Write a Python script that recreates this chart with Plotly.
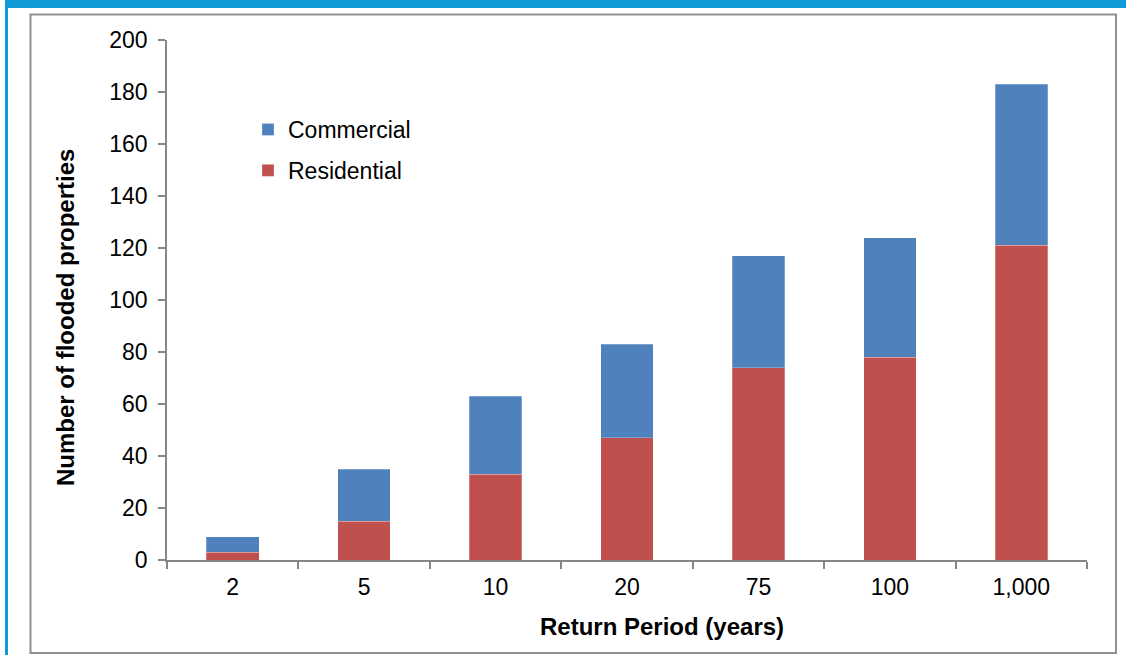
import plotly.graph_objects as go

# Return periods and flooded property counts per category
return_periods = ["2", "5", "10", "20", "75", "100", "1,000"]
residential = [3, 15, 33, 47, 74, 78, 121]
commercial = [6, 20, 30, 36, 43, 46, 62]

W, H = 1126, 655
L, R, T, B = 167, 1087, 40, 560  # plot area in pixels

def px(x):
    return (x - L) / (R - L)

def py(y):
    return (B - y) / (B - T)

FONT = "Liberation Sans, Arial, sans-serif"
AXIS_GREY = "#868686"
FS = 23

fig = go.Figure()
fig.add_trace(go.Bar(
    x=return_periods, y=residential, name="Residential",
    marker=dict(color="#c0504d", line=dict(color="rgba(255,255,255,0.5)", width=0.5)),
    legendgroup="res", legendrank=2,
))
fig.add_trace(go.Bar(
    x=return_periods, y=commercial, name="Commercial",
    marker=dict(color="#4f81bd", line=dict(color="rgba(255,255,255,0.5)", width=0.5)),
    legendgroup="com", legendrank=1,
))

shapes = [
    # blue header band and left strip
    dict(type="rect", xref="paper", yref="paper",
         x0=px(6), x1=px(W + 5), y0=py(0), y1=py(8),
         fillcolor="#0f9ad8", line=dict(width=0), layer="below"),
    dict(type="rect", xref="paper", yref="paper",
         x0=px(5), x1=px(8), y0=py(0), y1=py(H + 5),
         fillcolor="#0f9ad8", line=dict(width=0), layer="below"),
    # chart frame
    dict(type="rect", xref="paper", yref="paper",
         x0=px(30.5), x1=px(1116), y0=py(14.5), y1=py(653),
         fillcolor="rgba(0,0,0,0)", line=dict(color="#909090", width=2), layer="below"),
]

annotations = [
    dict(text="<b>Return Period (years)</b>", xref="paper", yref="paper",
         x=px(662), y=py(626), showarrow=False, xanchor="center", yanchor="middle",
         font=dict(family=FONT, size=24, color="#000000")),
    dict(text="<b>Number of flooded properties</b>", xref="paper", yref="paper",
         x=px(65), y=py(318), showarrow=False, xanchor="center", yanchor="middle",
         textangle=-90, font=dict(family=FONT, size=24, color="#000000")),
]

fig.update_layout(
    width=W, height=H,
    margin=dict(l=L, r=W - R, t=T, b=H - B, pad=0),
    paper_bgcolor="white", plot_bgcolor="white",
    barmode="stack", bargap=0.6,
    font=dict(family=FONT, size=FS, color="#000000"),
    showlegend=True,
    legend=dict(
        x=px(248), y=py(108), xanchor="left", yanchor="top",
        traceorder="grouped", tracegroupgap=8,
        font=dict(family=FONT, size=FS, color="#000000"),
        bgcolor="rgba(0,0,0,0)", itemwidth=30,
    ),
    xaxis=dict(
        type="category", tickson="boundaries", ticks="outside", ticklen=7,
        tickcolor=AXIS_GREY, tickwidth=1.5, showline=True, linecolor=AXIS_GREY,
        linewidth=1.5, showgrid=False, zeroline=False, ticklabelstandoff=6,
        tickfont=dict(family=FONT, size=FS, color="#000000"),
    ),
    yaxis=dict(
        range=[0, 200], dtick=20, ticks="outside", ticklen=7,
        tickcolor=AXIS_GREY, tickwidth=1.5, showline=True, linecolor=AXIS_GREY,
        linewidth=1.5, showgrid=False, zeroline=False, ticklabelstandoff=6,
        tickfont=dict(family=FONT, size=FS, color="#000000"),
    ),
    shapes=shapes,
    annotations=annotations,
)

fig.write_html("out.html")
